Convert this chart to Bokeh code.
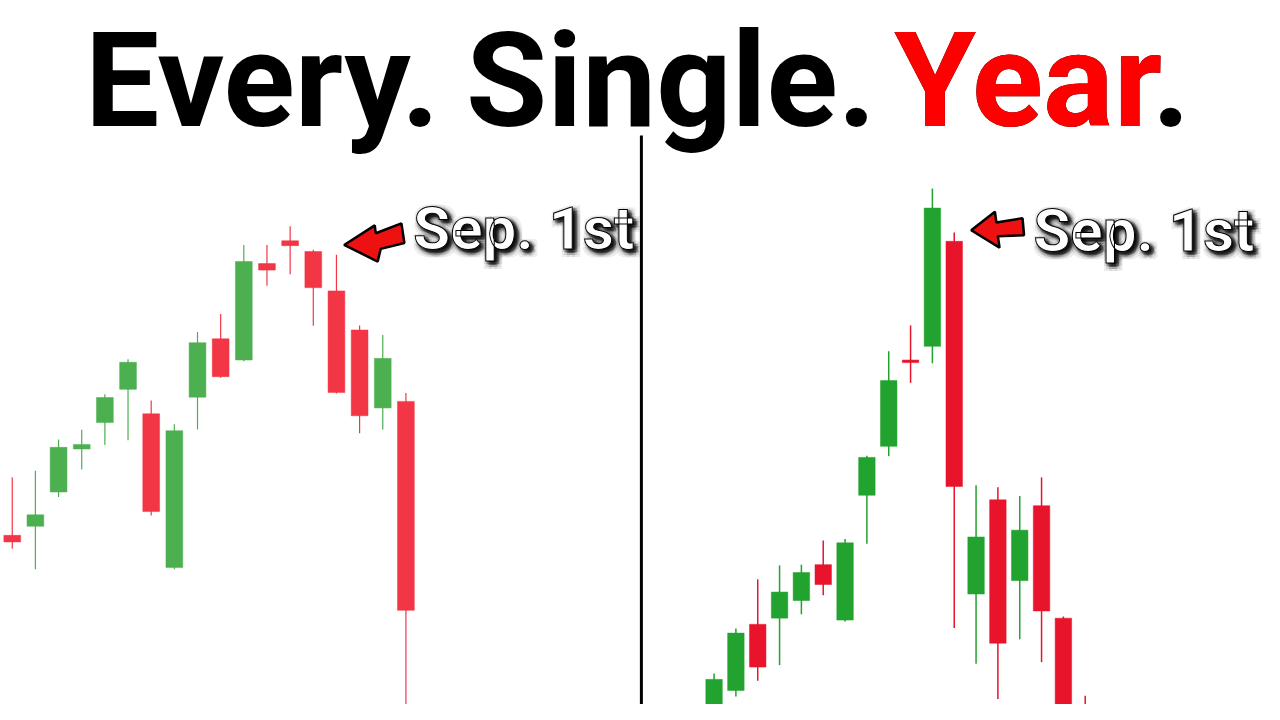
from bokeh.plotting import figure
from bokeh.models import Range1d, ColumnDataSource
from bokeh.core.properties import value
from bokeh.embed import file_html
from bokeh.resources import INLINE

# ---------------- data (price index units) ----------------
# Left chart: 18 sessions
left_open  = [173, 182.3, 217.3, 261.3, 288.3, 322.3, 297.3, 140, 314.3, 374, 352.3, 451, 474.3, 463.3, 423, 383, 303.3, 310]
left_close = [166.3, 194, 263, 266, 314, 350, 197.3, 280, 370, 335.3, 453, 444.3, 469.3, 426.3, 319, 295.3, 354, 96.3]
left_high  = [232.3, 239, 271, 281, 317.3, 353, 311, 286.7, 381, 399.3, 470, 470, 489, 465, 460, 387.7, 378, 318.7]
left_low   = [159.3, 138.3, 212.3, 240.3, 265.3, 270.3, 193.3, 138.3, 281.3, 334.3, 351, 428.3, 440, 387.3, 318, 277.3, 281.3, -5]

# Right chart: 18 sessions
right_open  = [-8, 14.3, 82, 88.3, 106.3, 143, 86.3, 214, 264, 352.3, 366.3, 473.7, 113, 209.3, 126.7, 203.3, 88.3, -2]
right_close = [25.7, 73, 38.3, 115, 135, 122.7, 165.3, 252.7, 331.3, 349.7, 507.7, 223, 171.3, 62.7, 178.3, 95.7, -20, -30]
right_high  = [31.7, 77.7, 128, 142.3, 143, 167.7, 169.3, 254.3, 361.3, 387.7, 527.7, 482.7, 224.3, 222.3, 213.3, 232.3, 90, 9]
right_low   = [-15, 8.3, 24.3, 40.3, 92.3, 111.7, 85, 164.3, 254, 329, 349, 78.3, 41.7, 5.7, 66.7, 43.3, -30, -40]

title_words = ["Every.", "Single.", "Year."]
label_text = "Sep. 1st"

# ---------------- styling ----------------
LEFT_UP, LEFT_DOWN = "#4CAF50", "#F23645"
RIGHT_UP, RIGHT_DOWN = "#22A22E", "#E8142B"
TITLE_FONT = "Roboto"

p = figure(width=1264, height=704, output_backend="svg", toolbar_location=None,
           x_range=Range1d(0, 1280), y_range=Range1d(0, 720),
           x_axis_location=None, y_axis_location=None, min_border=0)
p.outline_line_color = None
p.background_fill_color = "white"
p.border_fill_color = "white"
p.xgrid.grid_line_color = None
p.ygrid.grid_line_color = None
p.extra_x_ranges = {"L": Range1d(-0.5075, 54.077), "R": Range1d(-32.682, 25.211)}


def candles(opens, closes, highs, lows, up, down, rng, width, wick_w):
    n = len(opens)
    src = ColumnDataSource(dict(
        x=list(range(n)),
        o=opens, c=closes, h=highs, l=lows,
        top=[max(a, b) for a, b in zip(opens, closes)],
        bot=[min(a, b) for a, b in zip(opens, closes)],
        col=[up if c >= o else down for o, c in zip(opens, closes)],
    ))
    p.segment(x0="x", y0="l", x1="x", y1="h", line_color="col", line_width=wick_w,
              source=src, x_range_name=rng)
    p.vbar(x="x", width=width, top="top", bottom="bot", fill_color="col",
           line_color="col", line_width=0.5, source=src, x_range_name=rng)


candles(left_open, left_close, left_high, left_low, LEFT_UP, LEFT_DOWN, "L", 0.725, 1.2)
candles(right_open, right_close, right_high, right_low, RIGHT_UP, RIGHT_DOWN, "R", 0.755, 1.5)

# divider
p.segment(x0=[649], y0=[0], x1=[649], y1=[582], line_color="black", line_width=3)

# arrows
p.patch([348, 379, 380, 406, 409, 385, 382],
        [720 - v for v in [250, 230, 238, 228, 248, 254, 267]],
        fill_color="#EE1111", line_color="black", line_width=2.5)
p.patch([983, 1007, 1008.5, 1035, 1036.5, 1010, 1011.7],
        [720 - v for v in [235, 216, 227, 222.7, 240, 241, 252.7]],
        fill_color="#EE1111", line_color="black", line_width=2.5)

# "Sep. 1st" labels with soft shadow
for lx, ly in [(418, 487), (1046, 485)]:
    for r, a in [(5, 0.07), (3, 0.11), (1.5, 0.2)]:
        for dx, dy in [(r, 0), (-r, 0), (0, r), (0, -r), (r, r), (-r, r), (r, -r), (-r, -r)]:
            p.text(x=[lx], y=[ly], text=[label_text], x_offset=3 + dx, y_offset=3 + dy,
                   text_font=value(TITLE_FONT), text_font_style="bold",
                   text_font_size="60px", text_color="black", text_alpha=a,
                   text_align="left", text_baseline="middle")
    p.text(x=[lx], y=[ly], text=[label_text], text_font=value(TITLE_FONT),
           text_font_style="bold", text_font_size="60px", text_color="white",
           text_outline_color="black", text_align="left", text_baseline="middle")

# title
TY = 638
p.text(x=[265, 679], y=[TY, TY], text=title_words[:2], text_font=value(TITLE_FONT),
       text_font_style="bold", text_font_size="132px", text_color="black",
       text_align="center", text_baseline="middle")
p.text(x=[905], y=[TY], text=[title_words[2]], text_font=value(TITLE_FONT),
       text_font_style="bold", text_font_size="132px", text_color="black",
       text_align="left", text_baseline="middle")
p.text(x=[905], y=[TY], text=[title_words[2].rstrip(".")], text_font=value(TITLE_FONT),
       text_font_style="bold", text_font_size="132px", text_color="#FF0000",
       text_align="left", text_baseline="middle")

open("out.html", "w").write(file_html(p, INLINE))
